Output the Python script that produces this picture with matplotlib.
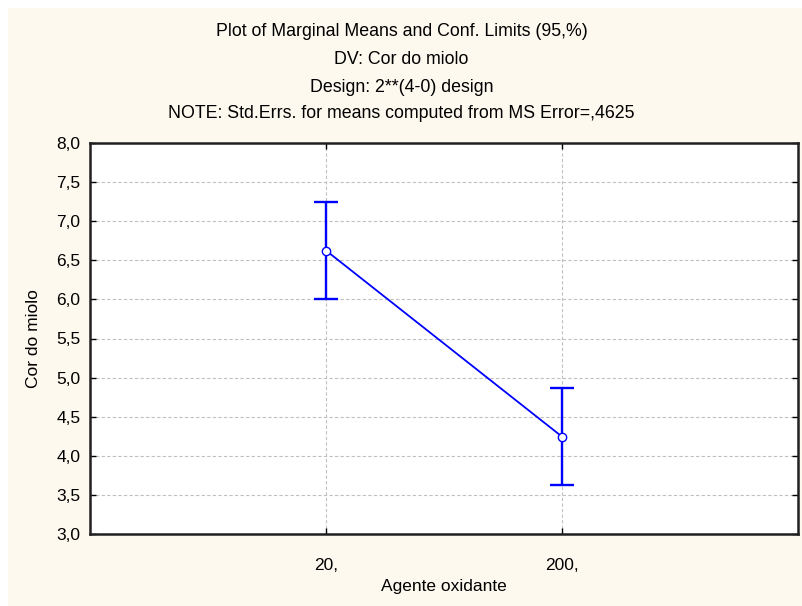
import matplotlib
matplotlib.use('Agg')
import matplotlib.pyplot as plt
from matplotlib.patches import Rectangle

plt.rcParams['font.family'] = ['Liberation Sans', 'DejaVu Sans']

categories = ['20,', '200,']
means = [6.625, 4.245]
ci_half = [0.62, 0.62]
y_ticks = [3.0, 3.5, 4.0, 4.5, 5.0, 5.5, 6.0, 6.5, 7.0, 7.5, 8.0]
title_lines = ['Plot of Marginal Means and Conf. Limits (95,%)',
               'DV: Cor do miolo',
               'Design: 2**(4-0) design',
               'NOTE: Std.Errs. for means computed from MS Error=,4625']

W, H = 803, 606
fig = plt.figure(figsize=(W / 100, H / 100), dpi=100)
fig.patch.set_facecolor('white')
fig.patches.append(Rectangle((8 / W, 0), 1 - 8 / W, 1 - 8 / H,
                             transform=fig.transFigure, facecolor='#fdf9ee',
                             edgecolor='none', zorder=-10))

ax = fig.add_axes([90 / W, 1 - 534 / H, (798 - 90) / W, (534 - 143) / H])
ax.set_facecolor('white')

x = list(range(len(categories)))
ax.plot(x, means, color='#0000ff', lw=1.3, zorder=3)
ax.errorbar(x, means, yerr=ci_half, fmt='none', ecolor='#0000ff',
            elinewidth=1.7, capsize=8.3, capthick=1.7, zorder=3)
ax.plot(x, means, 'o', ms=6, mfc='white', mec='#0000ff', mew=1, zorder=4)

ax.set_xlim(-1, 2)
ax.set_ylim(3, 8)
ax.set_xticks(x)
ax.set_xticklabels(categories)
ax.set_yticks(y_ticks)
ax.set_yticklabels([f'{v:.1f}'.replace('.', ',') for v in y_ticks])
ax.tick_params(direction='in', length=4, width=1, labelsize=12.5,
               top=True, right=True, pad=7)
ax.tick_params(axis='x', pad=17)
ax.grid(True, color='#c0c0c0', ls=(0, (3, 2)), lw=0.8)
ax.set_axisbelow(True)
for s in ax.spines.values():
    s.set_linewidth(1.8)
    s.set_color('#202020')

ax.set_xlabel('Agente oxidante', fontsize=12.5, va='center')
ax.set_ylabel('Cor do miolo', fontsize=12.5, va='center')
ax.xaxis.set_label_coords(0.5, -(586 - 534) / 391)
ax.yaxis.set_label_coords((33 - 90) / 708, 0.5)

for i, t in enumerate(title_lines):
    y = [32, 59, 87, 114][i]
    fig.text(0.5, 1 - y / H, t, ha='center', va='center', fontsize=12.8)

fig.savefig('out.png', dpi=100)
